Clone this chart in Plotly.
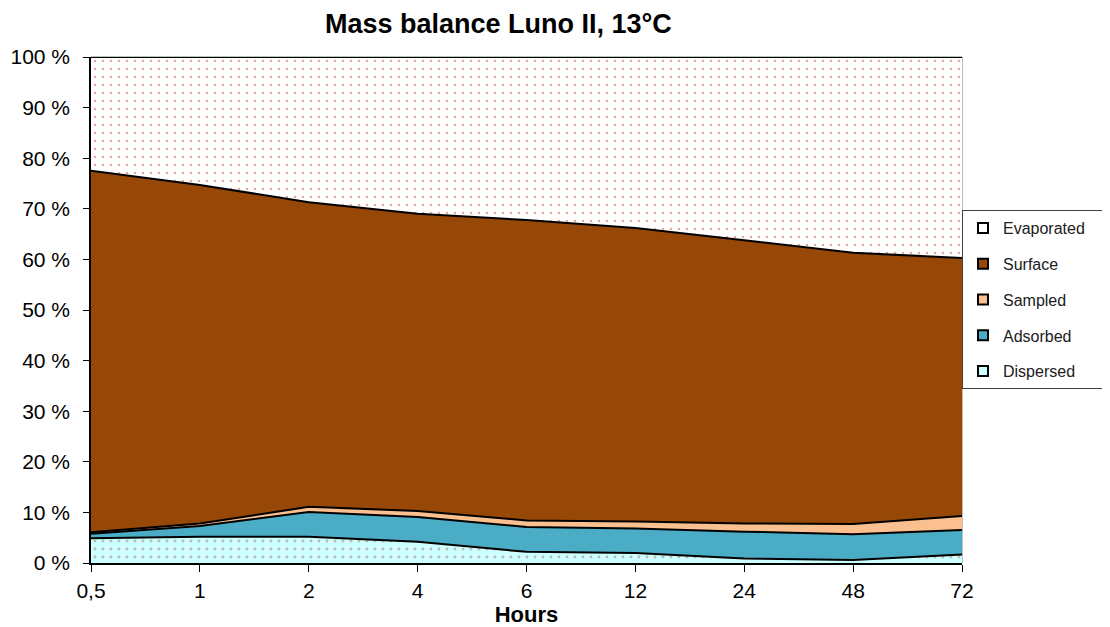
import plotly.graph_objects as go

hours = ["0,5", "1", "2", "4", "6", "12", "24", "48", "72"]
dispersed = [4.9, 5.2, 5.2, 4.2, 2.2, 2.0, 0.9, 0.6, 1.7]
adsorbed = [0.9, 2.1, 4.9, 4.9, 4.9, 4.8, 5.3, 5.1, 4.8]
sampled = [0.3, 0.5, 1.0, 1.2, 1.3, 1.4, 1.6, 2.0, 2.8]
surface = [71.4, 66.9, 60.2, 58.7, 59.4, 58.0, 56.0, 53.6, 51.0]
evaporated = [22.5, 25.3, 28.7, 31.0, 32.2, 33.8, 36.2, 38.7, 39.7]
yticks = [0, 10, 20, 30, 40, 50, 60, 70, 80, 90, 100]

xs = list(range(len(hours)))
series = [
    ("Dispersed", dispersed, "#CCFFFF", dict(shape=".", fgcolor="#B07060", bgcolor="#CCFFFF", size=8, solidity=0.1)),
    ("Adsorbed", adsorbed, "#4BACC6", None),
    ("Sampled", sampled, "#FAC090", None),
    ("Surface", surface, "#974706", None),
    ("Evaporated", evaporated, "#FFFFFF", dict(shape=".", fgcolor="#D0502A", bgcolor="#FFFFFF", size=8, solidity=0.08)),
]

fig = go.Figure()
for name, vals, col, pat in series:
    kw = dict(fillpattern=pat) if pat else {}
    fig.add_trace(go.Scatter(
        x=xs, y=vals, name=name, mode="lines", stackgroup="one", showlegend=False,
        line=dict(color="black", width=2), fillcolor=col, **kw))
n = len(series)
for i, (name, vals, col, pat) in enumerate(reversed(series)):
    label = name + "\u00a0" * 4 if name == "Evaporated" else name
    fig.add_trace(go.Scatter(
        x=[None], y=[None], name=label, mode="markers", legendgroup=name, legendrank=i + 1,
        marker=dict(symbol="square", size=10, color=col, line=dict(color="black", width=2))))

font = "Liberation Sans, Arial, sans-serif"
W, H = 1102, 619
fig.update_layout(
    width=W, height=H,
    margin=dict(l=83, r=148, t=49, b=64),
    paper_bgcolor="white", plot_bgcolor="white",
    title=dict(text="<b>Mass balance Luno II, 13°C</b>", x=0.445, xanchor="center", xref="container",
               y=0.99, yanchor="top", font=dict(family=font, size=27, color="black")),
    font=dict(family=font, color="black"),
    showlegend=True,
    legend=dict(traceorder="grouped", xref="container", yref="container",
                x=(W - 148) / W, xanchor="left", y=(H - 202) / H, yanchor="top",
                bordercolor="#404040", borderwidth=1, bgcolor="white",
                font=dict(family=font, size=16, color="#202020"), tracegroupgap=12,
                itemwidth=30),
    xaxis=dict(tickmode="array", tickvals=xs, ticktext=hours, range=[0, len(hours) - 1],
               showgrid=False, zeroline=False, showline=True, linecolor="black", linewidth=2,
               ticks="outside", ticklen=7, tickcolor="black", tickfont=dict(size=21),
               ticklabelstandoff=1, automargin=False,
               title=dict(text="<b>Hours</b>", font=dict(size=22), standoff=4)),
    yaxis=dict(tickmode="array", tickvals=yticks, ticktext=[f"{v} %" for v in yticks],
               range=[0, 100], showgrid=False, zeroline=False, showline=True, linecolor="black",
               linewidth=1.5, ticks="outside", ticklen=6, tickcolor="black", tickfont=dict(size=21),
               ticklabelstandoff=9, automargin=False),
    shapes=[dict(type="rect", xref="paper", yref="paper", x0=0, y0=0, x1=1, y1=1,
                 line=dict(color="#808080", width=1), layer="below")],
)

fig.write_html("out.html")
